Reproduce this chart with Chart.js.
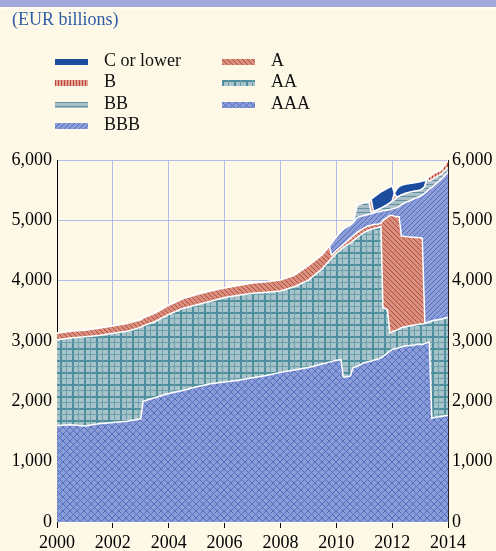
<!DOCTYPE html>
<html>
<head>
<meta charset="utf-8">
<script src="https://cdn.jsdelivr.net/npm/chart.js@4.4.1/dist/chart.umd.min.js"></script>
<style>
  html, body { margin:0; padding:0; background:#fef9e7; width:496px; height:551px; overflow:hidden; }
  #band { position:absolute; left:0; top:0; width:496px; height:7px; background:#a0a9da; }
  #bandline { position:absolute; left:0; top:7px; width:496px; height:2px; background:#fffdf4; }
  #title { position:absolute; left:12px; top:9px; font:18px "Liberation Serif", serif; color:#2f5ca6; white-space:nowrap; }
  .lg { position:absolute; font:18px "Liberation Serif", serif; color:#111; white-space:nowrap; line-height:20px; }
  .sw { position:absolute; width:33px; height:6px; }
  #wrap { position:absolute; left:0; top:0; width:496px; height:551px; }
</style>
</head>
<body>
<div id="wrap"><canvas id="c" width="496" height="551"></canvas></div>
<div id="band"></div><div id="bandline"></div>
<div id="title">(EUR billions)</div>
<div id="legend"></div>
<script>
// ---- data (EUR billions) ----
const YEARS = [2000.0, 2000.5, 2001.0, 2001.5, 2002.0, 2002.5, 2003.0, 2003.08, 2003.5,
  2004.0, 2004.5, 2005.0, 2005.5, 2006.0, 2006.5, 2007.0, 2007.5, 2008.0, 2008.5,
  2009.0, 2009.5, 2009.75, 2009.83,
  2010.0, 2010.17, 2010.25, 2010.5, 2010.6, 2010.75,
  2011.0, 2011.17, 2011.25, 2011.33, 2011.5, 2011.6, 2011.67, 2011.83, 2011.92,
  2012.0, 2012.08, 2012.17, 2012.25, 2012.33, 2012.5, 2012.75,
  2013.0, 2013.08, 2013.17, 2013.25, 2013.33, 2013.42, 2013.5, 2013.75, 2014.0];

const AAA = [1600,1610,1590,1630,1650,1670,1710,2000,2060,
  2130,2180,2240,2290,2320,2350,2390,2430,2480,2520,
  2560,2620,2650,2660,
  2680,2690,2400,2420,2560,2580,
  2640,2660,2670,2680,2700,2720,2740,2800,2830,
  2860,2870,2880,2890,2900,2920,2930,
  2950,2940,2960,2970,2980,1720,1730,1750,1770];

const AA = [1420,1440,1480,1460,1480,1490,1520,1250,1260,
  1310,1360,1360,1370,1400,1410,1400,1380,1350,1380,
  1450,1580,1680,1710,
  1770,1830,2150,2200,2100,2140,
  2160,2180,2180,2180,2180,2180,810,720,300,
  290,300,300,310,320,320,330,
  330,340,330,330,340,1610,1610,1610,1620];

const A = [110,110,110,120,120,130,120,130,140,
  150,160,170,170,160,160,170,170,180,190,
  240,230,240,50,
  50,50,50,80,80,80,
  80,70,70,70,60,50,1450,1530,1950,
  1930,1900,1880,1860,1520,1490,1460,
  1430,1420,0,0,0,0,0,0,0];

const BBB = [0,0,0,0,0,0,0,0,0,
  0,0,0,0,0,0,0,0,0,0,
  0,0,0,200,
  220,240,250,220,220,250,
  200,190,190,190,200,200,160,120,100,
  110,130,150,170,520,570,630,
  690,720,2160,2180,2200,2210,2240,2320,2410];

const BB = [0,0,0,0,0,0,0,0,0,
  0,0,0,0,0,0,0,0,0,0,
  0,0,0,0,
  0,0,0,0,0,200,
  210,200,30,20,40,50,60,90,110,
  130,140,170,170,160,150,130,
  100,100,110,220,130,130,120,80,80];

const B = [0,0,0,0,0,0,0,0,0,
  0,0,0,0,0,0,0,0,0,0,
  0,0,0,0,
  0,0,0,0,0,0,
  0,0,210,10,0,0,0,0,0,
  0,110,0,0,0,0,0,
  0,0,0,10,70,80,80,70,110];

const C_OR_LOWER = [0,0,0,0,0,0,0,0,0,
  0,0,0,0,0,0,0,0,0,0,
  0,0,0,0,
  0,0,0,0,0,0,
  0,0,0,230,260,270,270,270,260,
  250,0,140,160,160,150,140,
  140,130,100,0,0,0,0,0,0];

const Y_TICKS = [0, 1000, 2000, 3000, 4000, 5000, 6000];
const X_TICKS = [2000, 2002, 2004, 2006, 2008, 2010, 2012, 2014];

// ---- patterns ----
const mainCtx = document.getElementById('c').getContext('2d');
function tile(w, h, draw) {
  const c = document.createElement('canvas');
  c.width = w; c.height = h;
  const g = c.getContext('2d');
  draw(g, w, h);
  return c;
}
function diagBack(g, s) { // "\"
  for (let k = -1; k <= 1; k++) { g.beginPath(); g.moveTo(0, k*s); g.lineTo(s, s + k*s); g.stroke(); }
}
function diagFwd(g, s) { // "/"
  for (let k = 0; k <= 2; k++) { g.beginPath(); g.moveTo(0, k*s); g.lineTo(s, k*s - s); g.stroke(); }
}
const tiles = {
  AAA: tile(7, 7, (g, w) => { g.fillStyle = '#8c9cd8'; g.fillRect(0,0,w,w); g.strokeStyle = '#4f70bd'; g.lineWidth = 1; diagBack(g, w); diagFwd(g, w); }),
  AA: tile(12, 12, (g, w) => { g.fillStyle = '#a8c3ca'; g.fillRect(0,0,w,w); g.fillStyle = '#4f8e9c';
        g.fillRect(0,0,2,w); g.fillRect(0,0,w,2); g.fillStyle = '#6a9fac'; g.fillRect(6,0,1,w); g.fillRect(0,6,w,1); }),
  A: tile(5, 5, (g, w) => { g.fillStyle = '#d88f7d'; g.fillRect(0,0,w,w); g.strokeStyle = '#b04535'; g.lineWidth = 0.9; diagBack(g, w); }),
  BBB: tile(5, 5, (g, w) => { g.fillStyle = '#8c9dd8'; g.fillRect(0,0,w,w); g.strokeStyle = '#4a69b9'; g.lineWidth = 0.9; diagFwd(g, w); }),
  BB: tile(4, 4, (g, w) => { g.fillStyle = '#a9bec6'; g.fillRect(0,0,w,w); g.fillStyle = '#6592a2'; g.fillRect(0,0,w,1); }),
  B: tile(3, 3, (g, w) => { g.fillStyle = '#e0a595'; g.fillRect(0,0,w,w); g.fillStyle = '#c2443c'; g.fillRect(0,0,1,w); }),
  C: tile(2, 2, (g, w) => { g.fillStyle = '#1b4c9e'; g.fillRect(0,0,w,w); })
};
const pat = k => mainCtx.createPattern(tiles[k], 'repeat');

// ---- datasets (stack bottom -> top) ----
const SERIES = [
  ['AAA', AAA, 'AAA'], ['AA', AA, 'AA'], ['A', A, 'A'], ['BBB', BBB, 'BBB'],
  ['BB', BB, 'BB'], ['B', B, 'B'], ['C or lower', C_OR_LOWER, 'C']
];
const datasets = SERIES.map(([label, vals, key], i) => ({
  label,
  data: vals.map((v, j) => ({ x: YEARS[j], y: v })),
  backgroundColor: pat(key),
  borderColor: '#ffffff',
  borderWidth: 1.5,
  pointRadius: 0,
  tension: 0,
  fill: i === 0 ? 'origin' : '-1'
}));

// ---- legend (HTML) ----
const LEGEND = [
  ['C or lower', 'C', 0, 0], ['B', 'B', 0, 1], ['BB', 'BB', 0, 2], ['BBB', 'BBB', 0, 3],
  ['A', 'A', 1, 0], ['AA', 'AA', 1, 1], ['AAA', 'AAA', 1, 2]
];
const legendEl = document.getElementById('legend');
const rowY = [62, 83, 105, 126];
const colSw = [55, 222], colTx = [104, 271];
LEGEND.forEach(([txt, key, col, row]) => {
  const sw = document.createElement('div');
  sw.className = 'sw';
  sw.style.left = colSw[col] + 'px';
  sw.style.top = (rowY[row] - 3) + 'px';
  sw.style.backgroundImage = 'url(' + tiles[key].toDataURL() + ')';
  legendEl.appendChild(sw);
  const t = document.createElement('div');
  t.className = 'lg';
  t.style.left = colTx[col] + 'px';
  t.style.top = (rowY[row] - 12) + 'px';
  t.textContent = txt;
  legendEl.appendChild(t);
});

// ---- chart ----
const FONT = { family: '"Liberation Serif", serif', size: 18 };
const GRID = '#b3bce6';
const fmt = v => Number(v).toLocaleString('en-US');
new Chart(mainCtx, {
  type: 'line',
  data: { datasets },
  options: {
    responsive: false,
    animation: false,
    layout: { padding: { top: 160, left: 0, right: 0, bottom: 0 } },
    plugins: { legend: { display: false }, tooltip: { enabled: false } },
    scales: {
      x: {
        type: 'linear', min: 2000, max: 2014,
        afterBuildTicks: s => { s.ticks = X_TICKS.map(v => ({ value: v })); },
        ticks: { callback: v => String(v), color: '#000', font: FONT, padding: 4, maxRotation: 0, autoSkip: false },
        grid: { color: GRID, lineWidth: 1, tickColor: '#000', tickLength: 6, drawTicks: true },
        border: { color: '#ffffff', width: 1 },
        afterFit: s => { s.height = 29; }
      },
      y: {
        stacked: true, min: 0, max: 6000, position: 'left',
        afterBuildTicks: s => { s.ticks = Y_TICKS.map(v => ({ value: v })); },
        ticks: { callback: fmt, color: '#000', font: FONT, padding: 5 },
        grid: { color: GRID, lineWidth: 1, drawTicks: false },
        border: { color: '#000', width: 1 },
        afterFit: s => { s.width = 57; }
      },
      y2: {
        min: 0, max: 6000, position: 'right',
        afterBuildTicks: s => { s.ticks = Y_TICKS.map(v => ({ value: v })); },
        ticks: { callback: fmt, color: '#000', font: FONT, padding: 4 },
        grid: { display: false, drawTicks: false },
        border: { color: '#222', width: 1 },
        afterFit: s => { s.width = 48; }
      }
    }
  }
});
</script>
</body>
</html>
